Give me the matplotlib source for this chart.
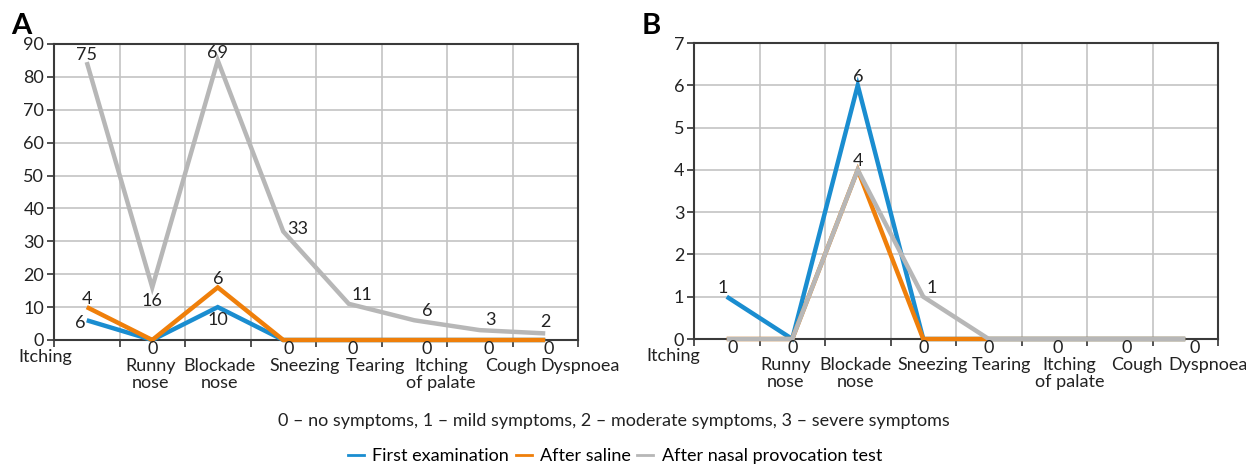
import matplotlib
matplotlib.use("Agg")
import matplotlib.pyplot as plt
from matplotlib.lines import Line2D

plt.rcParams["font.family"] = ["Lato", "DejaVu Sans"]
plt.rcParams["font.size"] = 13

CATEGORIES = ["Itching", "Runny\nnose", "Blockade\nnose", "Sneezing", "Tearing",
              "Itching\nof palate", "Cough", "Dyspnoea"]
SERIES = ["First examination", "After saline", "After nasal provocation test"]
COLORS = ["#1a8dd0", "#ef7f0a", "#b7b7b7"]

# panel A (plotted heights and printed labels differ in the source)
a_first = [6, 0, 10, 0, 0, 0, 0, 0]
a_saline = [10, 0, 16, 0, 0, 0, 0, 0]
a_provocation = [84.5, 16, 85, 33, 11, 6, 3, 2]
a_first_labels = ["6", None, "10", None, None, None, None, None]
a_saline_labels = ["4", "0", "6", "0", "0", "0", "0", "0"]
a_provocation_labels = ["75", "16", "69", "33", "11", "6", "3", "2"]

# panel B
b_first = [1, 0, 6, 0, 0, 0, 0, 0]
b_saline = [0, 0, 4, 0, 0, 0, 0, 0]
b_provocation = [0, 0, 4, 1, 0, 0, 0, 0]
b_first_labels = ["1", None, "6", None, None, None, None, None]
b_saline_labels = ["0", "0", None, "0", "0", "0", "0", "0"]
b_provocation_labels = [None, None, "4", "1", None, None, None, None]

A_YMAX, A_YSTEP = 90, 10
B_YMAX, B_YSTEP = 7, 1

# label placement: (dx px, dy px, ha, va)
A_LABEL_POS = [
    [(-1, -3, "right", "center"), None, (0, -5, "center", "top"), None, None, None, None, None],
    [(0, 0, "center", "bottom"), (0, -1, "center", "top"), (0, 0, "center", "bottom"),
     (5, -1, "center", "top"), (4, -1, "center", "top"), (12, -1, "center", "top"),
     (9, -1, "center", "top"), (3, -1, "center", "top")],
    [(0, -1, "center", "bottom"), (0, -6, "center", "top"), (0, -1, "center", "bottom"),
     (4, 2, "left", "center"), (3, 1, "left", "bottom"), (8, 1, "left", "bottom"),
     (5, 2, "left", "bottom"), (0, 3, "center", "bottom")],
]
B_LABEL_POS = [
    [(-4, 1, "center", "bottom"), None, (0, 0, "center", "bottom"), None, None, None, None, None],
    [(6, -1, "center", "top"), (0, -1, "center", "top"), None, (0, -1, "center", "top"),
     (0, -1, "center", "top"), (3, -1, "center", "top"), (7, -1, "center", "top"),
     (9, -1, "center", "top")],
    [None, None, (0, 1, "center", "bottom"), (3, 1, "left", "bottom"), None, None, None, None],
]
# category text x positions (data units, cells span 0..8)
A_CAT_X = [-0.14, 1.47, 2.52, 3.83, 4.9, 5.91, 6.97, 8.03]
B_CAT_X = [-0.32, 1.40, 2.47, 3.65, 4.70, 5.73, 6.76, 7.85]


def draw_panel(ax, series, labels, label_pos, ymax, ystep, cat_x):
    xs = [i + 0.5 for i in range(len(CATEGORIES))]
    for vals, color, z in zip(series, COLORS, [3, 4, 5]):
        ax.plot(xs, vals, color=color, lw=3.2, solid_joinstyle="miter",
                solid_capstyle="butt", zorder=z, clip_on=False)
    for vals, labs, poss in zip(series, labels, label_pos):
        for x, v, lab, pos in zip(xs, vals, labs, poss):
            if lab is None:
                continue
            dx, dy, ha, va = pos
            ax.annotate(lab, (x, v), xytext=(dx, dy), textcoords="offset pixels",
                        ha=ha, va=va, color="#222222", zorder=6)

    ax.set_xlim(0, len(CATEGORIES))
    ax.set_ylim(0, ymax)
    ax.set_xticks(range(len(CATEGORIES) + 1))
    ax.set_xticklabels([])
    ax.set_yticks(range(0, ymax + 1, ystep))
    ax.tick_params(axis="both", direction="out", length=5, width=1.2,
                   color="#333333", labelsize=13, labelcolor="#222222", pad=2)
    ax.grid(True, color="#c4c4c4", lw=1.2, zorder=0)
    ax.set_axisbelow(True)
    for sp in ax.spines.values():
        sp.set_color("#3a3a3a")
        sp.set_linewidth(1.5)

    for i, (name, cx) in enumerate(zip(CATEGORIES, cat_x)):
        dy = -9 if i == 0 else -18
        ax.annotate(name, (cx, 0), xycoords=("data", "axes fraction"),
                    xytext=(0, dy), textcoords="offset pixels",
                    ha="center", va="top", color="#222222",
                    linespacing=1.08, annotation_clip=False)


fig = plt.figure(figsize=(12.46, 4.66), dpi=100)
ax_a = fig.add_axes([54 / 1246, 126 / 466, 524 / 1246, 296 / 466])
ax_b = fig.add_axes([694 / 1246, 127 / 466, 524 / 1246, 296 / 466])

draw_panel(ax_a, [a_first, a_saline, a_provocation],
           [a_first_labels, a_saline_labels, a_provocation_labels],
           A_LABEL_POS, A_YMAX, A_YSTEP, A_CAT_X)
draw_panel(ax_b, [b_first, b_saline, b_provocation],
           [b_first_labels, b_saline_labels, b_provocation_labels],
           B_LABEL_POS, B_YMAX, B_YSTEP, B_CAT_X)

fig.text(21 / 1246, 1 - 26 / 466, "A", fontsize=21, fontweight="bold",
         ha="center", va="center")
fig.text(651 / 1246, 1 - 26 / 466, "B", fontsize=21, fontweight="bold",
         ha="center", va="center")

fig.text(614 / 1246, 1 - 421 / 466,
         "0 \u2013 no symptoms, 1 \u2013 mild symptoms, 2 \u2013 moderate symptoms, "
         "3 \u2013 severe symptoms", ha="center", va="center", color="#222222")

handles = [Line2D([], [], color=c, lw=2) for c in COLORS]
fig.legend(handles, SERIES, loc="center", bbox_to_anchor=(615 / 1246, 1 - 456 / 466),
           ncol=3, frameon=False, handlelength=0.9, handletextpad=0.45,
           columnspacing=0.35)

fig.savefig("out.png", dpi=100)
